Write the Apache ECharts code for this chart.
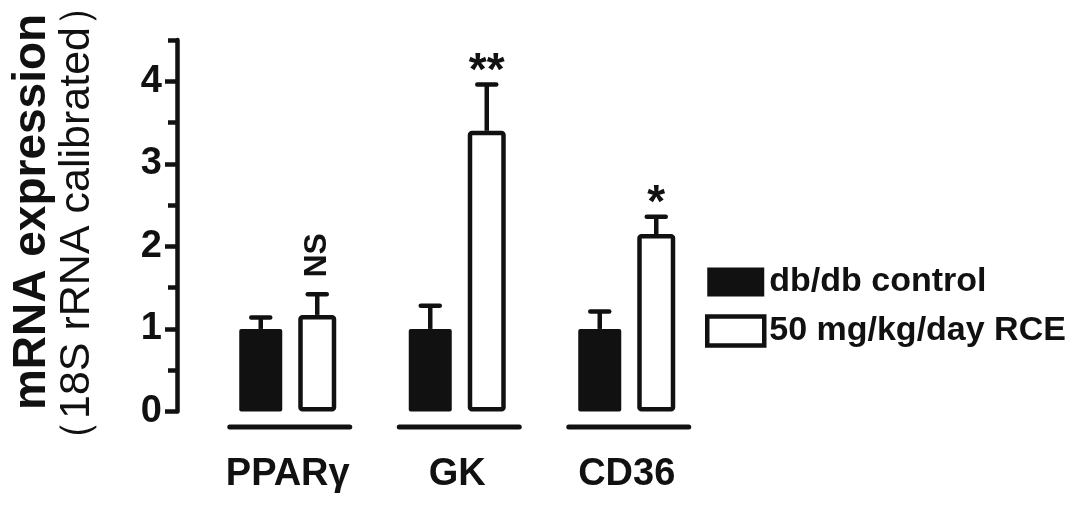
<!DOCTYPE html>
<html><head><meta charset="utf-8">
<script src="https://cdn.jsdelivr.net/npm/echarts@6/dist/echarts.min.js"></script>
<style>html,body{margin:0;padding:0;background:#fff}#c{width:1087px;height:509px}</style>
</head><body><div id="c"></div>
<script>
// ---- data ----
const categories = ['PPARγ', 'GK', 'CD36'];
const seriesNames = ['db/db control', '50 mg/kg/day RCE'];
const controlMean = [1.0, 1.0, 1.0];
const controlErrTop = [1.14, 1.28, 1.21];
const rceMean = [1.17, 3.40, 2.15];
const rceErrTop = [1.42, 3.96, 2.36];
const rceMarks = ['NS', '**', '*'];
const yMajorTicks = [0, 1, 2, 3, 4];
const yMinorTicks = [0.5, 1.5, 2.5, 3.5, 4.5];

// ---- style ----
const INK = '#111';
const FONT = '"Liberation Sans", Arial, Helvetica, sans-serif';
const BAR_OFFSET = [-27, 29.5]; // px offset of each bar centre within its category band

const errData = [];
categories.forEach((c, i) => {
  errData.push([i, controlMean[i], controlErrTop[i], 0]);
  errData.push([i, rceMean[i], rceErrTop[i], 1]);
});
const markData = categories.map((c, i) => [i, rceErrTop[i]]);
const baseData = categories.map((c, i) => [i, 0]);

const chart = echarts.init(document.getElementById('c'), null, {renderer: 'canvas'});
chart.setOption({
  animation: false,
  backgroundColor: '#fff',
  grid: {left: 203, width: 508.5, top: 40, height: 371.5, containLabel: false},
  legend: {
    orient: 'vertical', left: 705, top: 265, padding: 0,
    itemWidth: 57, itemHeight: 29, itemGap: 15, icon: 'rect',
    textStyle: {fontSize: 34, fontWeight: 'bold', color: INK, fontFamily: FONT, lineHeight: 30},
    data: [
      {name: seriesNames[0], itemStyle: {color: INK, borderWidth: 0}},
      {name: seriesNames[1], itemStyle: {color: '#fff', borderColor: INK, borderWidth: 4.5}}
    ]
  },
  xAxis: {
    type: 'category', data: categories,
    axisLine: {show: false}, axisTick: {show: false}, splitLine: {show: false},
    axisLabel: {fontSize: 38, fontWeight: 'bold', color: INK, fontFamily: FONT, margin: 63.5, verticalAlign: 'middle'}
  },
  yAxis: [
    {
      type: 'value', min: 0, max: 4.5, offset: 26, position: 'left',
      axisLine: {show: true, lineStyle: {color: INK, width: 4.5}},
      axisTick: {show: true, length: 12, lineStyle: {color: INK, width: 4.5}, customValues: yMajorTicks},
      axisLabel: {customValues: yMajorTicks, fontSize: 38, fontWeight: 'bold', color: INK, fontFamily: FONT, margin: 15},
      splitLine: {show: false}
    },
    {
      type: 'value', min: 0, max: 4.5, offset: 26, position: 'left',
      axisLine: {show: false},
      axisTick: {show: true, length: 9, lineStyle: {color: INK, width: 4.5}, customValues: yMinorTicks},
      axisLabel: {show: false}, splitLine: {show: false}
    }
  ],
  graphic: [
    {type: 'text', x: 32, y: 212, rotation: Math.PI / 2,
     style: {text: 'mRNA expression', fill: INK, font: 'bold 46px ' + FONT, align: 'center', verticalAlign: 'middle'}},
    {type: 'text', x: 77, y: 223, rotation: Math.PI / 2,
     style: {text: '（18S rRNA calibrated）', fill: INK, font: '43px ' + FONT, align: 'center', verticalAlign: 'middle'}}
  ],
  series: [
    {name: seriesNames[0], type: 'bar', data: controlMean, barWidth: 43, barGap: '37.2%',
     itemStyle: {color: INK, borderRadius: 2}},
    {name: seriesNames[1], type: 'bar', data: rceMean, barWidth: 38, barGap: '37.2%',
     itemStyle: {color: '#fff', borderColor: INK, borderWidth: 4.5, borderRadius: 2}},
    {type: 'custom', name: 'err', data: errData, z: 5, silent: true,
     renderItem: function (params, api) {
       const cat = api.value(0), s = api.value(3);
       const p0 = api.coord([cat, api.value(1)]);
       const p1 = api.coord([cat, api.value(2)]);
       const x = p0[0] + BAR_OFFSET[s];
       return {type: 'group', children: [
         {type: 'line', shape: {x1: x, y1: p0[1], x2: x, y2: p1[1]}, style: {stroke: INK, lineWidth: 4.5}},
         {type: 'line', shape: {x1: x - 9.5, y1: p1[1], x2: x + 9.5, y2: p1[1]}, style: {stroke: INK, lineWidth: 4.5, lineCap: 'round'}}
       ]};
     }},
    {type: 'custom', name: 'marks', data: markData, z: 6, silent: true,
     renderItem: function (params, api) {
       const i = api.value(0);
       const p = api.coord([i, api.value(1)]);
       const x = p[0] + BAR_OFFSET[1];
       const t = rceMarks[i];
       if (t === 'NS') {
         return {type: 'text', x: x, y: p[1] - 39, rotation: Math.PI / 2,
           style: {text: t, fill: INK, font: 'bold 32px ' + FONT, align: 'center', verticalAlign: 'middle'}};
       }
       return {type: 'text', x: x, y: p[1] - 12,
         style: {text: t, fill: INK, font: 'bold 46px ' + FONT, align: 'center', verticalAlign: 'middle'}};
     }},
    {type: 'custom', name: 'base', data: baseData, z: 4, silent: true,
     renderItem: function (params, api) {
       const p = api.coord([api.value(0), 0]);
       const x = p[0] + 2, y = p[1] + 15.5;
       return {type: 'line', shape: {x1: x - 60, y1: y, x2: x + 60, y2: y},
         style: {stroke: INK, lineWidth: 5, lineCap: 'round'}};
     }}
  ]
});
</script></body></html>
